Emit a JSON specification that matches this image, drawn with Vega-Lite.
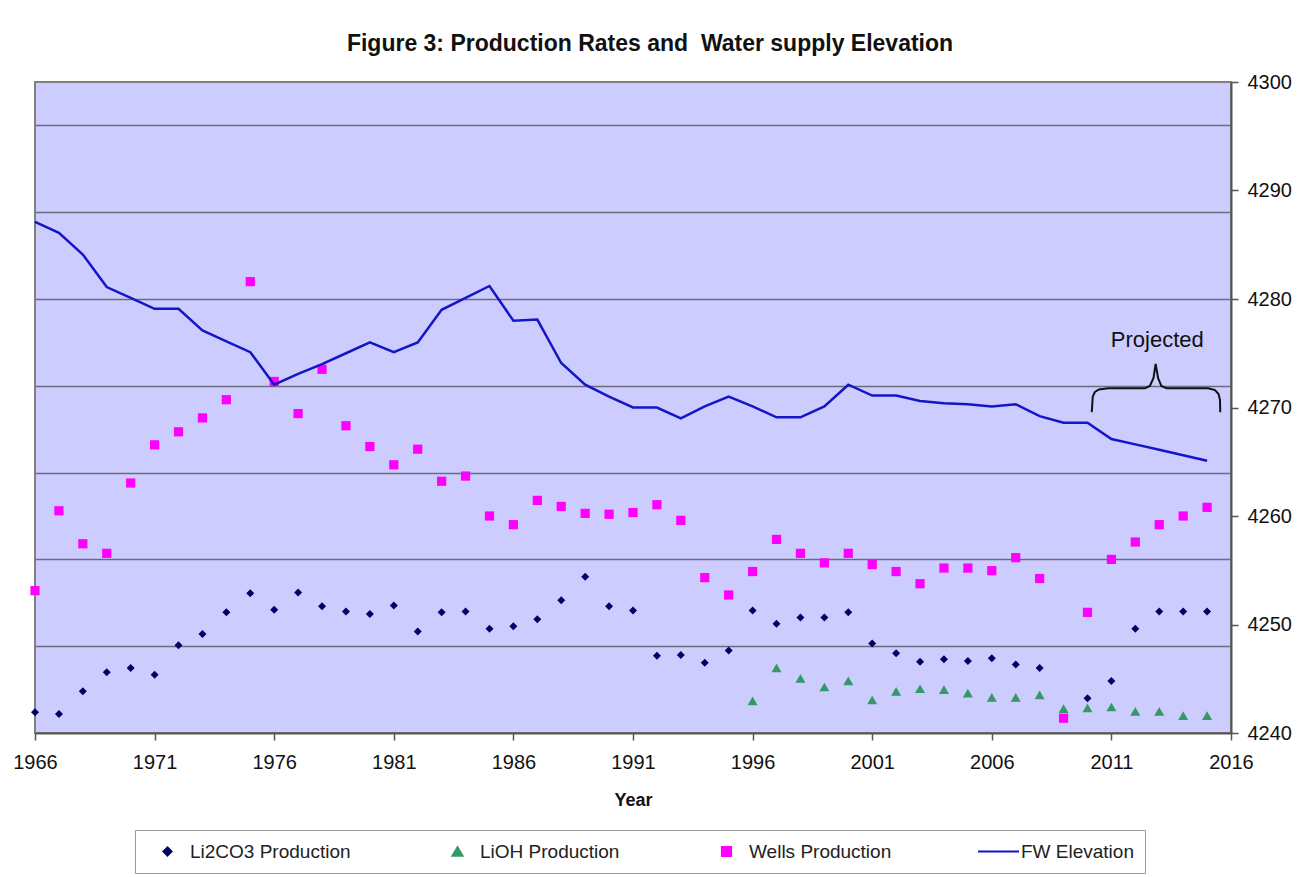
{
  "$schema": "https://vega.github.io/schema/vega-lite/v6.json",
  "width": 1196,
  "height": 651,
  "autosize": {"type": "none"},
  "padding": {"left": 35, "top": 82, "right": 70, "bottom": 144},
  "background": "white",
  "title": {
    "text": "Figure 3: Production Rates and\u00a0 Water supply Elevation",
    "font": "Liberation Sans",
    "fontSize": 23,
    "fontWeight": "bold",
    "color": "#111111",
    "anchor": "middle",
    "dx": 17,
    "offset": -2,
    "baseline": "alphabetic"
  },
  "config": {
    "font": "Liberation Sans",
    "view": {"fill": "#CCCCFF", "stroke": "#808080", "strokeWidth": 2},
    "legend": {
      "orient": "none",
      "legendX": 100,
      "legendY": 748,
      "direction": "horizontal",
      "columns": 4,
      "padding": 11,
      "strokeColor": "#9a9a9a",
      "fillColor": "white",
      "columnPadding": 85,
      "clipHeight": 21,
      "labelFont": "Liberation Sans",
      "labelFontSize": 19,
      "labelColor": "#222222",
      "labelOffset": 1,
      "labelLimit": 400,
      "symbolStrokeWidth": 2,
      "symbolOpacity": 1
    }
  },
  "resolve": {"scale": {"y": "independent"}},
  "layer": [
    {
      "data": {
        "values": [
          {"year": 1966, "series": "Li2CO3 Production", "production": 0.24},
          {"year": 1967, "series": "Li2CO3 Production", "production": 0.22},
          {"year": 1968, "series": "Li2CO3 Production", "production": 0.48},
          {"year": 1969, "series": "Li2CO3 Production", "production": 0.70},
          {"year": 1970, "series": "Li2CO3 Production", "production": 0.75},
          {"year": 1971, "series": "Li2CO3 Production", "production": 0.67},
          {"year": 1972, "series": "Li2CO3 Production", "production": 1.01},
          {"year": 1973, "series": "Li2CO3 Production", "production": 1.14},
          {"year": 1974, "series": "Li2CO3 Production", "production": 1.39},
          {"year": 1975, "series": "Li2CO3 Production", "production": 1.61},
          {"year": 1976, "series": "Li2CO3 Production", "production": 1.42},
          {"year": 1977, "series": "Li2CO3 Production", "production": 1.62},
          {"year": 1978, "series": "Li2CO3 Production", "production": 1.46},
          {"year": 1979, "series": "Li2CO3 Production", "production": 1.40},
          {"year": 1980, "series": "Li2CO3 Production", "production": 1.37},
          {"year": 1981, "series": "Li2CO3 Production", "production": 1.47},
          {"year": 1982, "series": "Li2CO3 Production", "production": 1.17},
          {"year": 1983, "series": "Li2CO3 Production", "production": 1.39},
          {"year": 1984, "series": "Li2CO3 Production", "production": 1.40},
          {"year": 1985, "series": "Li2CO3 Production", "production": 1.20},
          {"year": 1986, "series": "Li2CO3 Production", "production": 1.23},
          {"year": 1987, "series": "Li2CO3 Production", "production": 1.31},
          {"year": 1988, "series": "Li2CO3 Production", "production": 1.53},
          {"year": 1989, "series": "Li2CO3 Production", "production": 1.80},
          {"year": 1990, "series": "Li2CO3 Production", "production": 1.46},
          {"year": 1991, "series": "Li2CO3 Production", "production": 1.41},
          {"year": 1992, "series": "Li2CO3 Production", "production": 0.89},
          {"year": 1993, "series": "Li2CO3 Production", "production": 0.90},
          {"year": 1994, "series": "Li2CO3 Production", "production": 0.81},
          {"year": 1995, "series": "Li2CO3 Production", "production": 0.95},
          {"year": 1996, "series": "Li2CO3 Production", "production": 1.41},
          {"year": 1997, "series": "Li2CO3 Production", "production": 1.26},
          {"year": 1998, "series": "Li2CO3 Production", "production": 1.33},
          {"year": 1999, "series": "Li2CO3 Production", "production": 1.33},
          {"year": 2000, "series": "Li2CO3 Production", "production": 1.39},
          {"year": 2001, "series": "Li2CO3 Production", "production": 1.03},
          {"year": 2002, "series": "Li2CO3 Production", "production": 0.92},
          {"year": 2003, "series": "Li2CO3 Production", "production": 0.82},
          {"year": 2004, "series": "Li2CO3 Production", "production": 0.85},
          {"year": 2005, "series": "Li2CO3 Production", "production": 0.83},
          {"year": 2006, "series": "Li2CO3 Production", "production": 0.86},
          {"year": 2007, "series": "Li2CO3 Production", "production": 0.79},
          {"year": 2008, "series": "Li2CO3 Production", "production": 0.75},
          {"year": 2010, "series": "Li2CO3 Production", "production": 0.40},
          {"year": 2011, "series": "Li2CO3 Production", "production": 0.60},
          {"year": 2012, "series": "Li2CO3 Production", "production": 1.20},
          {"year": 2013, "series": "Li2CO3 Production", "production": 1.40},
          {"year": 2014, "series": "Li2CO3 Production", "production": 1.40},
          {"year": 2015, "series": "Li2CO3 Production", "production": 1.40},
          {"year": 1996, "series": "LiOH Production", "production": 0.37},
          {"year": 1997, "series": "LiOH Production", "production": 0.75},
          {"year": 1998, "series": "LiOH Production", "production": 0.63},
          {"year": 1999, "series": "LiOH Production", "production": 0.53},
          {"year": 2000, "series": "LiOH Production", "production": 0.60},
          {"year": 2001, "series": "LiOH Production", "production": 0.38},
          {"year": 2002, "series": "LiOH Production", "production": 0.48},
          {"year": 2003, "series": "LiOH Production", "production": 0.51},
          {"year": 2004, "series": "LiOH Production", "production": 0.50},
          {"year": 2005, "series": "LiOH Production", "production": 0.46},
          {"year": 2006, "series": "LiOH Production", "production": 0.41},
          {"year": 2007, "series": "LiOH Production", "production": 0.41},
          {"year": 2008, "series": "LiOH Production", "production": 0.44},
          {"year": 2009, "series": "LiOH Production", "production": 0.28},
          {"year": 2010, "series": "LiOH Production", "production": 0.29},
          {"year": 2011, "series": "LiOH Production", "production": 0.30},
          {"year": 2012, "series": "LiOH Production", "production": 0.25},
          {"year": 2013, "series": "LiOH Production", "production": 0.25},
          {"year": 2014, "series": "LiOH Production", "production": 0.20},
          {"year": 2015, "series": "LiOH Production", "production": 0.20},
          {"year": 1966, "series": "Wells Production", "production": 1.64},
          {"year": 1967, "series": "Wells Production", "production": 2.56},
          {"year": 1968, "series": "Wells Production", "production": 2.18},
          {"year": 1969, "series": "Wells Production", "production": 2.07},
          {"year": 1970, "series": "Wells Production", "production": 2.88},
          {"year": 1971, "series": "Wells Production", "production": 3.32},
          {"year": 1972, "series": "Wells Production", "production": 3.47},
          {"year": 1973, "series": "Wells Production", "production": 3.63},
          {"year": 1974, "series": "Wells Production", "production": 3.84},
          {"year": 1975, "series": "Wells Production", "production": 5.20},
          {"year": 1976, "series": "Wells Production", "production": 4.05},
          {"year": 1977, "series": "Wells Production", "production": 3.68},
          {"year": 1978, "series": "Wells Production", "production": 4.19},
          {"year": 1979, "series": "Wells Production", "production": 3.54},
          {"year": 1980, "series": "Wells Production", "production": 3.30},
          {"year": 1981, "series": "Wells Production", "production": 3.09},
          {"year": 1982, "series": "Wells Production", "production": 3.27},
          {"year": 1983, "series": "Wells Production", "production": 2.90},
          {"year": 1984, "series": "Wells Production", "production": 2.96},
          {"year": 1985, "series": "Wells Production", "production": 2.50},
          {"year": 1986, "series": "Wells Production", "production": 2.40},
          {"year": 1987, "series": "Wells Production", "production": 2.68},
          {"year": 1988, "series": "Wells Production", "production": 2.61},
          {"year": 1989, "series": "Wells Production", "production": 2.53},
          {"year": 1990, "series": "Wells Production", "production": 2.52},
          {"year": 1991, "series": "Wells Production", "production": 2.54},
          {"year": 1992, "series": "Wells Production", "production": 2.63},
          {"year": 1993, "series": "Wells Production", "production": 2.45},
          {"year": 1994, "series": "Wells Production", "production": 1.79},
          {"year": 1995, "series": "Wells Production", "production": 1.59},
          {"year": 1996, "series": "Wells Production", "production": 1.86},
          {"year": 1997, "series": "Wells Production", "production": 2.23},
          {"year": 1998, "series": "Wells Production", "production": 2.07},
          {"year": 1999, "series": "Wells Production", "production": 1.96},
          {"year": 2000, "series": "Wells Production", "production": 2.07},
          {"year": 2001, "series": "Wells Production", "production": 1.94},
          {"year": 2002, "series": "Wells Production", "production": 1.86},
          {"year": 2003, "series": "Wells Production", "production": 1.72},
          {"year": 2004, "series": "Wells Production", "production": 1.90},
          {"year": 2005, "series": "Wells Production", "production": 1.90},
          {"year": 2006, "series": "Wells Production", "production": 1.87},
          {"year": 2007, "series": "Wells Production", "production": 2.02},
          {"year": 2008, "series": "Wells Production", "production": 1.78},
          {"year": 2009, "series": "Wells Production", "production": 0.17},
          {"year": 2010, "series": "Wells Production", "production": 1.39},
          {"year": 2011, "series": "Wells Production", "production": 2.00},
          {"year": 2012, "series": "Wells Production", "production": 2.20},
          {"year": 2013, "series": "Wells Production", "production": 2.40},
          {"year": 2014, "series": "Wells Production", "production": 2.50},
          {"year": 2015, "series": "Wells Production", "production": 2.60}
        ]
      },
      "mark": {"type": "point", "filled": true, "opacity": 1},
      "encoding": {
        "x": {
          "field": "year",
          "type": "quantitative",
          "scale": {"domain": [1966, 2016], "nice": false, "zero": false},
          "axis": {
            "title": "Year",
            "titleFont": "Liberation Sans",
            "titleFontSize": 18,
            "titleFontWeight": "bold",
            "titleColor": "#111111",
            "titlePadding": 19,
            "values": [1966, 1971, 1976, 1981, 1986, 1991, 1996, 2001, 2006, 2011, 2016],
            "format": "d",
            "grid": false,
            "labelFontSize": 20,
            "labelColor": "#111111",
            "labelPadding": 12,
            "labelFlush": false,
            "tickSize": 7,
            "tickColor": "#555555",
            "tickWidth": 1.5,
            "domainColor": "#555555",
            "domainWidth": 2
          }
        },
        "y": {
          "field": "production",
          "type": "quantitative",
          "scale": {"domain": [0, 7.5], "nice": false, "zero": true},
          "axis": {
            "orient": "left",
            "title": null,
            "labels": false,
            "ticks": false,
            "domain": false,
            "grid": true,
            "values": [1, 2, 3, 4, 5, 6, 7],
            "gridColor": "#6c6c7c",
            "gridWidth": 1.5,
            "gridOpacity": 1
          }
        },
        "color": {
          "field": "series",
          "type": "nominal",
          "title": null,
          "scale": {
            "domain": ["Li2CO3 Production", "LiOH Production", "Wells Production", "FW Elevation"],
            "range": ["#000066", "#339966", "#FF00FF", "#1515C8"]
          }
        },
        "shape": {
          "field": "series",
          "type": "nominal",
          "title": null,
          "scale": {
            "domain": ["Li2CO3 Production", "LiOH Production", "Wells Production", "FW Elevation"],
            "range": ["diamond", "triangle-up", "square", "stroke"]
          }
        },
        "size": {
          "field": "series",
          "type": "nominal",
          "title": null,
          "scale": {
            "type": "ordinal",
            "domain": ["Li2CO3 Production", "LiOH Production", "Wells Production", "FW Elevation"],
            "range": [64, 100, 85, 1681]
          }
        }
      }
    },
    {
      "layer": [
        {
          "data": {
            "values": [
              {"year": 1966, "series": "FW Elevation", "elevation": 4287.1},
              {"year": 1967, "series": "FW Elevation", "elevation": 4286.1},
              {"year": 1968, "series": "FW Elevation", "elevation": 4284.1},
              {"year": 1969, "series": "FW Elevation", "elevation": 4281.1},
              {"year": 1970, "series": "FW Elevation", "elevation": 4280.1},
              {"year": 1971, "series": "FW Elevation", "elevation": 4279.1},
              {"year": 1972, "series": "FW Elevation", "elevation": 4279.1},
              {"year": 1973, "series": "FW Elevation", "elevation": 4277.1},
              {"year": 1974, "series": "FW Elevation", "elevation": 4276.1},
              {"year": 1975, "series": "FW Elevation", "elevation": 4275.1},
              {"year": 1976, "series": "FW Elevation", "elevation": 4272.1},
              {"year": 1977, "series": "FW Elevation", "elevation": 4273.1},
              {"year": 1978, "series": "FW Elevation", "elevation": 4274.0},
              {"year": 1979, "series": "FW Elevation", "elevation": 4275.0},
              {"year": 1980, "series": "FW Elevation", "elevation": 4276.0},
              {"year": 1981, "series": "FW Elevation", "elevation": 4275.1},
              {"year": 1982, "series": "FW Elevation", "elevation": 4276.0},
              {"year": 1983, "series": "FW Elevation", "elevation": 4279.0},
              {"year": 1984, "series": "FW Elevation", "elevation": 4280.1},
              {"year": 1985, "series": "FW Elevation", "elevation": 4281.2},
              {"year": 1986, "series": "FW Elevation", "elevation": 4278.0},
              {"year": 1987, "series": "FW Elevation", "elevation": 4278.1},
              {"year": 1988, "series": "FW Elevation", "elevation": 4274.1},
              {"year": 1989, "series": "FW Elevation", "elevation": 4272.1},
              {"year": 1990, "series": "FW Elevation", "elevation": 4271.0},
              {"year": 1991, "series": "FW Elevation", "elevation": 4270.0},
              {"year": 1992, "series": "FW Elevation", "elevation": 4270.0},
              {"year": 1993, "series": "FW Elevation", "elevation": 4269.0},
              {"year": 1994, "series": "FW Elevation", "elevation": 4270.1},
              {"year": 1995, "series": "FW Elevation", "elevation": 4271.0},
              {"year": 1996, "series": "FW Elevation", "elevation": 4270.1},
              {"year": 1997, "series": "FW Elevation", "elevation": 4269.1},
              {"year": 1998, "series": "FW Elevation", "elevation": 4269.1},
              {"year": 1999, "series": "FW Elevation", "elevation": 4270.1},
              {"year": 2000, "series": "FW Elevation", "elevation": 4272.1},
              {"year": 2001, "series": "FW Elevation", "elevation": 4271.1},
              {"year": 2002, "series": "FW Elevation", "elevation": 4271.1},
              {"year": 2003, "series": "FW Elevation", "elevation": 4270.6},
              {"year": 2004, "series": "FW Elevation", "elevation": 4270.4},
              {"year": 2005, "series": "FW Elevation", "elevation": 4270.3},
              {"year": 2006, "series": "FW Elevation", "elevation": 4270.1},
              {"year": 2007, "series": "FW Elevation", "elevation": 4270.3},
              {"year": 2008, "series": "FW Elevation", "elevation": 4269.2},
              {"year": 2009, "series": "FW Elevation", "elevation": 4268.6},
              {"year": 2010, "series": "FW Elevation", "elevation": 4268.6},
              {"year": 2011, "series": "FW Elevation", "elevation": 4267.1},
              {"year": 2012, "series": "FW Elevation", "elevation": 4266.6},
              {"year": 2013, "series": "FW Elevation", "elevation": 4266.1},
              {"year": 2014, "series": "FW Elevation", "elevation": 4265.6},
              {"year": 2015, "series": "FW Elevation", "elevation": 4265.1}
            ]
          },
          "mark": {"type": "line", "strokeWidth": 2.5},
          "encoding": {
            "x": {"field": "year", "type": "quantitative"},
            "y": {
              "field": "elevation",
              "type": "quantitative",
              "scale": {"domain": [4240, 4300], "nice": false, "zero": false},
              "axis": {
                "orient": "right",
                "title": null,
                "values": [4240, 4250, 4260, 4270, 4280, 4290, 4300],
                "format": "d",
                "grid": false,
                "labelFontSize": 20,
                "labelColor": "#111111",
                "labelPadding": 9,
                "tickSize": 7,
                "tickColor": "#555555",
                "tickWidth": 1.5,
                "domainColor": "#555555",
                "domainWidth": 2
              }
            },
            "color": {"field": "series", "type": "nominal", "title": null}
          }
        },
        {
          "data": {
            "values": [
              {"i": 1, "year": 2010.18, "elevation": 4269.57},
              {"i": 2, "year": 2010.22, "elevation": 4271.0},
              {"i": 3, "year": 2010.31, "elevation": 4271.43},
              {"i": 4, "year": 2010.48, "elevation": 4271.66},
              {"i": 5, "year": 2010.87, "elevation": 4271.77},
              {"i": 6, "year": 2012.40, "elevation": 4271.77},
              {"i": 7, "year": 2012.61, "elevation": 4271.98},
              {"i": 8, "year": 2012.76, "elevation": 4272.72},
              {"i": 9, "year": 2012.85, "elevation": 4274.01},
              {"i": 10, "year": 2012.95, "elevation": 4272.72},
              {"i": 11, "year": 2013.09, "elevation": 4271.98},
              {"i": 12, "year": 2013.31, "elevation": 4271.77},
              {"i": 13, "year": 2015.05, "elevation": 4271.77},
              {"i": 14, "year": 2015.33, "elevation": 4271.61},
              {"i": 15, "year": 2015.48, "elevation": 4271.24},
              {"i": 16, "year": 2015.54, "elevation": 4270.69},
              {"i": 17, "year": 2015.55, "elevation": 4269.57}
            ]
          },
          "mark": {"type": "line", "color": "#111111", "strokeWidth": 2},
          "encoding": {
            "x": {"field": "year", "type": "quantitative"},
            "y": {"field": "elevation", "type": "quantitative"},
            "order": {"field": "i", "type": "quantitative"}
          }
        },
        {
          "data": {"values": [{"year": 2012.92, "elevation": 4275.55, "label": "Projected"}]},
          "mark": {
            "type": "text",
            "font": "Liberation Sans",
            "fontSize": 22,
            "align": "center",
            "baseline": "alphabetic",
            "color": "#111111"
          },
          "encoding": {
            "x": {"field": "year", "type": "quantitative"},
            "y": {"field": "elevation", "type": "quantitative"},
            "text": {"field": "label"}
          }
        }
      ]
    }
  ]
}
